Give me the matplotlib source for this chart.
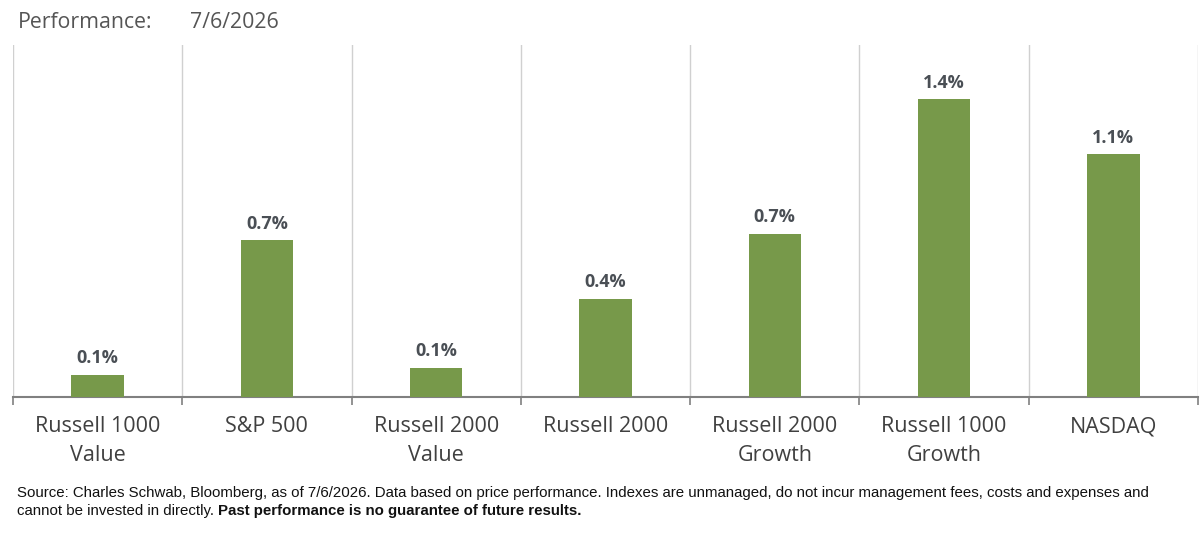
import numpy as np
import matplotlib.pyplot as plt

categories = ['Russell 1000\nValue', 'S&P 500', 'Russell 2000\nValue', 'Russell 2000',
              'Russell 2000\nGrowth', 'Russell 1000\nGrowth', 'NASDAQ']
values = [0.107, 0.75, 0.14, 0.47, 0.78, 1.42, 1.16]
value_labels = ['0.1%', '0.7%', '0.1%', '0.4%', '0.7%', '1.4%', '1.1%']

bar_color = '#77994A'
text_color = '#404040'

plt.rcParams['font.family'] = ['Open Sans', 'DejaVu Sans']

fig = plt.figure(figsize=(12, 5.37), dpi=100)
ax = fig.add_axes([13/1200, 1 - 397/537, 1185/1200, 352/537])

x = np.arange(len(categories))
ax.bar(x, values, width=0.31, color=bar_color, zorder=3)
for xi, v, lab in zip(x, values, value_labels):
    ax.text(xi, v + 0.035, lab, ha='center', va='bottom', fontsize=13,
            fontweight='bold', color='#4a4f55')

ax.set_xlim(-0.5, len(categories) - 0.5)
ax.set_ylim(0, 1.68)

# vertical separators between categories
for b in np.arange(-0.5, len(categories) + 0.5, 1):
    ax.axvline(b, color='#d0d0d0', lw=1, zorder=1)

ax.set_yticks([])
ax.set_xticks(np.arange(-0.5, len(categories) + 0.5, 1))
ax.set_xticklabels([])
ax.set_xticks(x, minor=True)
ax.set_xticklabels(categories, minor=True, fontsize=15.5, color=text_color, linespacing=1.45)
ax.tick_params(axis='x', which='major', length=6, width=1.2, color='#808080', direction='out')
ax.tick_params(axis='x', which='minor', length=0, pad=14)
for s in ['top', 'right', 'left']:
    ax.spines[s].set_visible(False)
ax.spines['bottom'].set_color('#808080')
ax.spines['bottom'].set_linewidth(1.5)

fig.text(18/1200, 1 - 22/537, 'Performance:', fontsize=15.3, color='#555555', va='center')
fig.text(190/1200, 1 - 22/537, '7/6/2026', fontsize=15.3, color='#555555', va='center')

foot = ['Liberation Sans', 'DejaVu Sans']
fig.text(17/1200, 1 - 493/537,
         'Source: Charles Schwab, Bloomberg, as of 7/6/2026. Data based on price performance. '
         'Indexes are unmanaged, do not incur management fees, costs and expenses and',
         fontsize=10.85, family=foot, color='#111111', va='center')
t1 = fig.text(17/1200, 1 - 511/537, 'cannot be invested in directly. ',
              fontsize=10.85, family=foot, color='#111111', va='center')
fig.canvas.draw()
bb = t1.get_window_extent()
fig.text(bb.x1 / fig.bbox.width, 1 - 511/537, 'Past performance is no guarantee of future results.',
         fontsize=10.85, family=foot, fontweight='bold', color='#111111', va='center')

fig.savefig('out.png', dpi=100)
